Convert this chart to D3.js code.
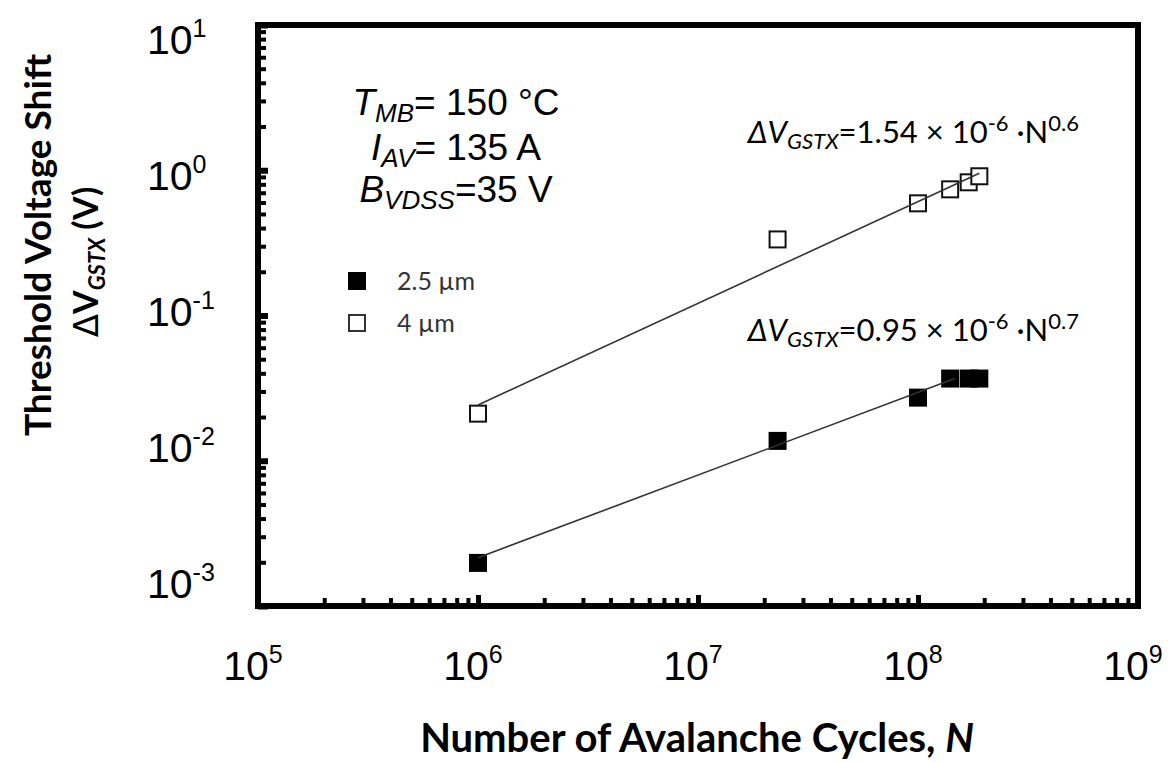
<!DOCTYPE html>
<html>
<head>
<meta charset="utf-8">
<script src="https://cdn.jsdelivr.net/npm/d3@7"></script>
<style>
  body { margin: 0; background: #fff; }
  svg { display: block; }
</style>
</head>
<body>
<div id="chart"></div>
<script>
// data
const xDecades = [1e5, 1e6, 1e7, 1e8, 1e9];
const xExponents = ['5', '6', '7', '8', '9'];
const yDecades = [1e-3, 1e-2, 1e-1, 1e0, 1e1];
const yExponents = ['-3', '-2', '-1', '0', '1'];

const cycles = [1e6, 2.3e7, 1e8, 1.4e8, 1.7e8, 1.9e8];
const shift25 = [0.00198, 0.0137, 0.0272, 0.0368, 0.0368, 0.0368];
const shift4 = [0.0211, 0.334, 0.592, 0.739, 0.826, 0.909];

const fit25 = [[1e6, 0.00215], [1.47e8, 0.0368]];
const fit4 = [[1e6, 0.0242], [1.9e8, 0.953]];

const seriesNames = ['2.5 \u00b5m', '4 \u00b5m'];

// layout
const width = 1173, height = 762;
const margin = { top: 25, right: 35, bottom: 156, left: 258 };

const svg = d3.select('#chart').append('svg')
  .attr('width', width)
  .attr('height', height);

const x = d3.scaleLog().domain([1e5, 1e9]).range([margin.left, width - margin.right]);
const y = d3.scaleLog().domain([1e-3, 1e1]).range([height - margin.bottom, margin.top]);
// tick labels sit a little inside the decade positions in the original
const yLab = d3.scaleLog().domain([1e-3, 1e1]).range([584, 40]);

const minorX = x.ticks().filter(d => !xDecades.includes(d));
const minorY = y.ticks().filter(d => !yDecades.some(v => Math.abs(v - d) / v < 1e-6));

// frame
svg.append('rect')
  .attr('x', x.range()[0])
  .attr('y', y.range()[1])
  .attr('width', x.range()[1] - x.range()[0])
  .attr('height', y.range()[0] - y.range()[1])
  .attr('fill', 'none')
  .attr('stroke', '#000')
  .attr('stroke-width', 6);

// ticks, pointing inward
function ticks(g, axis, w) {
  g.call(axis);
  g.select('.domain').remove();
  g.selectAll('.tick line').attr('stroke', '#000').attr('stroke-width', w);
  g.selectAll('.tick text').remove();
}
svg.append('g').attr('transform', `translate(0,${y.range()[0]})`)
  .call(ticks, d3.axisBottom(x).tickValues(minorX).tickSize(-8), 4);
svg.append('g').attr('transform', `translate(0,${y.range()[0]})`)
  .call(ticks, d3.axisBottom(x).tickValues(xDecades).tickSize(-11), 5);
svg.append('g').attr('transform', `translate(${x.range()[0]},0)`)
  .call(ticks, d3.axisLeft(y).tickValues(minorY).tickSize(-8), 4);
svg.append('g').attr('transform', `translate(${x.range()[0]},0)`)
  .call(ticks, d3.axisLeft(y).tickValues(yDecades).tickSize(-10), 6);

// tick labels
const sans = 'Liberation Sans, Arial, sans-serif';
const xl = svg.append('g').attr('font-family', sans).attr('font-size', 41);
xDecades.forEach((d, i) => {
  const t = xl.append('text').attr('x', x(d) - 5).attr('y', 680).attr('text-anchor', 'middle');
  t.append('tspan').text('10');
  t.append('tspan').attr('font-size', 25).attr('dy', -17).text(xExponents[i]);
});
const yl = svg.append('g').attr('font-family', sans).attr('font-size', 41);
yDecades.forEach((d, i) => {
  const t = yl.append('text').attr('x', 147).attr('y', yLab(d) + 14);
  t.append('tspan').text('10');
  t.append('tspan').attr('font-size', 25).attr('dy', -17).text(yExponents[i]);
});

// axis titles
const calib = 'Lato, Open Sans, sans-serif';
svg.append('text')
  .attr('x', 697).attr('y', 752)
  .attr('text-anchor', 'middle')
  .attr('font-family', calib).attr('font-weight', 'bold').attr('font-size', 40)
  .call(t => {
    t.append('tspan').text('Number of Avalanche Cycles, ');
    t.append('tspan').attr('font-style', 'italic').text('N');
  });

svg.append('text')
  .attr('transform', 'translate(51,245) rotate(-90)')
  .attr('text-anchor', 'middle')
  .attr('font-family', calib).attr('font-weight', 'bold').attr('font-size', 37)
  .text('Threshold Voltage Shift');

svg.append('text')
  .attr('transform', 'translate(98,262) rotate(-90)')
  .attr('text-anchor', 'middle')
  .attr('font-family', calib).attr('font-weight', 'bold').attr('font-size', 34)
  .call(t => {
    t.append('tspan').attr('font-family', 'DejaVu Sans').attr('font-weight', 'normal').text('\u0394');
    t.append('tspan').text('V');
    t.append('tspan').attr('font-style', 'italic').attr('font-size', 22).attr('dy', 7).text('GSTX');
    t.append('tspan').attr('dy', -7).text(' (V)');
  });

// fit lines and markers
const line = d3.line().x(d => x(d[0])).y(d => y(d[1]));
const size = 18;

svg.append('g').selectAll('rect')
  .data(cycles.map((c, i) => [c, shift25[i]]))
  .join('rect')
  .attr('x', d => x(d[0]) - size / 2)
  .attr('y', d => y(d[1]) - size / 2)
  .attr('width', size).attr('height', size)
  .attr('fill', '#000');

svg.append('g').selectAll('rect')
  .data(cycles.map((c, i) => [c, shift4[i]]))
  .join('rect')
  .attr('x', d => x(d[0]) - size / 2 + 1)
  .attr('y', d => y(d[1]) - size / 2 + 1)
  .attr('width', size - 2).attr('height', size - 2)
  .attr('fill', '#fff')
  .attr('stroke', '#111')
  .attr('stroke-width', 2);

[fit25, fit4].forEach(f => {
  svg.append('path')
    .attr('d', line(f))
    .attr('fill', 'none')
    .attr('stroke', '#333')
    .attr('stroke-width', 1.6);
});

// conditions
const cond = svg.append('g').attr('font-family', sans).attr('font-size', 37).attr('text-anchor', 'middle');
[['T', 'MB', '= 150 \u00b0C', 115], ['I', 'AV', '= 135 A', 160], ['B', 'VDSS', '=35 V', 202]].forEach(r => {
  const t = cond.append('text').attr('x', 456).attr('y', r[3]);
  t.append('tspan').attr('font-style', 'italic').text(r[0]);
  t.append('tspan').attr('font-style', 'italic').attr('font-size', 26).attr('dy', 7).text(r[1]);
  t.append('tspan').attr('dy', -7).text(r[2]);
});

// fit equations
const eq = svg.append('g').attr('font-family', calib).attr('font-size', 31).attr('text-anchor', 'end');
[['1.54', '0.6', 143], ['0.95', '0.7', 341]].forEach(r => {
  const t = eq.append('text').attr('x', 1079).attr('y', r[2]);
  t.append('tspan').attr('font-style', 'italic').text('\u0394V');
  t.append('tspan').attr('font-style', 'italic').attr('font-size', 22).attr('dy', 6).text('GSTX');
  t.append('tspan').attr('dy', -6).text('=' + r[0] + ' \u00d7 10');
  t.append('tspan').attr('font-size', 22).attr('dy', -12).text('-6');
  t.append('tspan').attr('dy', 12).text(' \u00b7N');
  t.append('tspan').attr('font-size', 22).attr('dy', -12).text(r[1]);
});

// legend
const leg = svg.append('g').attr('font-family', calib).attr('font-size', 25).attr('fill', '#333');
seriesNames.forEach((name, i) => {
  const cy = 281 + i * 42;
  leg.append('rect')
    .attr('x', 348 + (i ? 1 : 0)).attr('y', cy - 9 + (i ? 1 : 0))
    .attr('width', i ? 16 : 18).attr('height', i ? 16 : 18)
    .attr('fill', i ? '#fff' : '#000')
    .attr('stroke', i ? '#333' : 'none')
    .attr('stroke-width', 2);
  leg.append('text').attr('x', 397).attr('y', cy + 9).text(name);
});
</script>
</body>
</html>
